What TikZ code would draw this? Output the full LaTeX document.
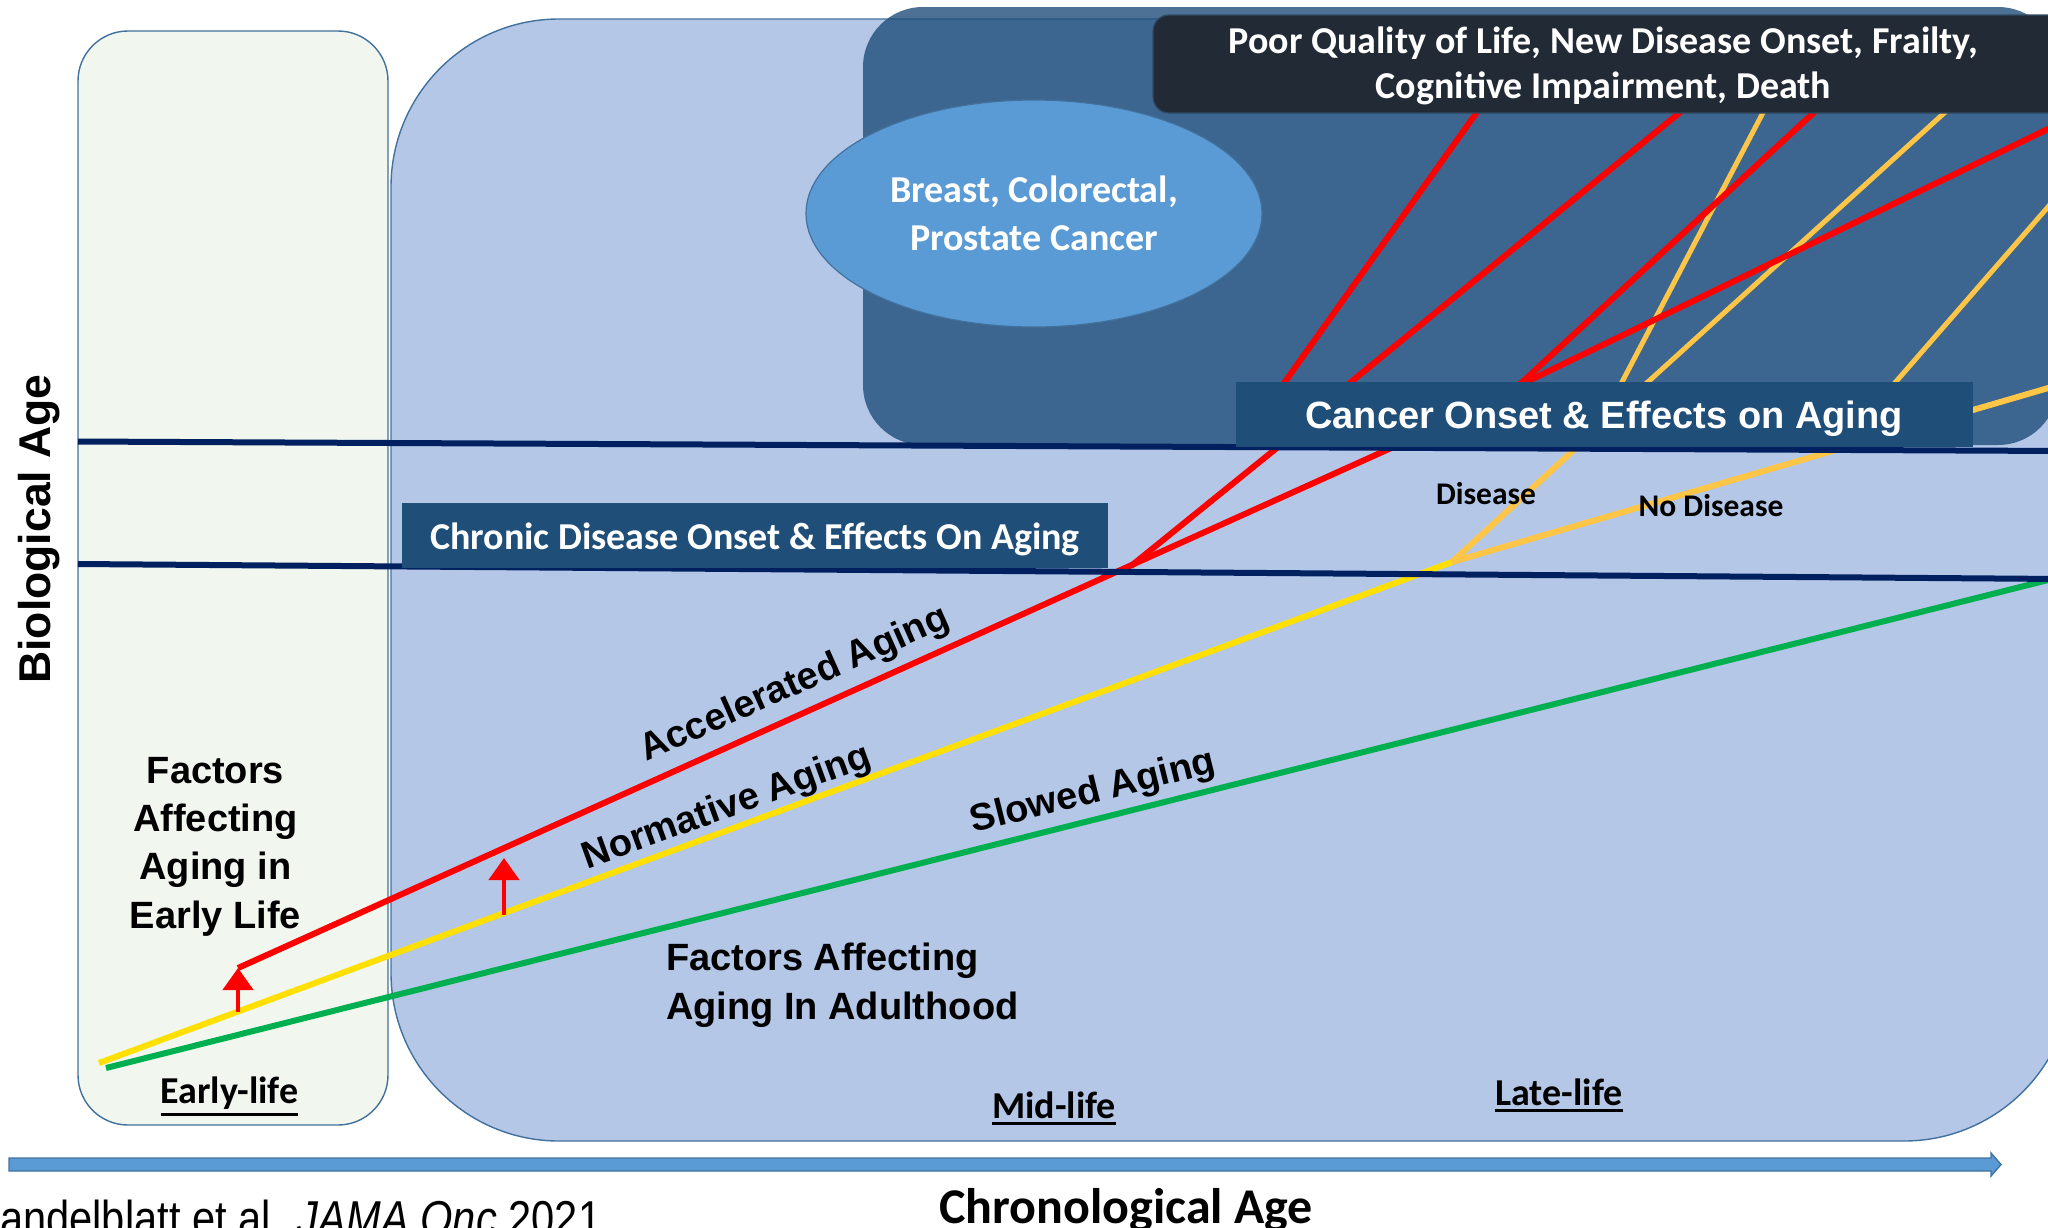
\documentclass[tikz,border=0pt]{standalone}
\usepackage{fontspec}
\setmainfont{Carlito}
\newfontfamily\arialfont{Liberation Sans}
\newfontfamily\citefont{Liberation Sans}[FakeStretch=0.85]
\usetikzlibrary{shapes.geometric,arrows.meta}

\definecolor{earlyfill}{HTML}{F1F6EE}
\definecolor{boxedge}{HTML}{41719C}
\definecolor{midfill}{HTML}{B4C7E7}
\definecolor{bannerblue}{HTML}{1F4E79}
\definecolor{poorfill}{HTML}{222A35}
\definecolor{ellfill}{HTML}{5B9BD5}
\definecolor{navy}{HTML}{002060}
\definecolor{redl}{HTML}{FF0000}
\definecolor{yell}{HTML}{FFE000}
\definecolor{orng}{HTML}{FFC547}
\definecolor{grn}{HTML}{00B050}

% underlined life-stage label with a heavy rule
\newcommand{\lifeul}[1]{\vtop{\hbox{#1}\kern4pt\hrule height 2.6pt}}

\begin{document}
\begin{tikzpicture}[x=1pt,y=-1pt,
  every node/.style={inner sep=0pt,outer sep=0pt},
  panel/.style={draw=boxedge,line width=1.4pt},
  track/.style={line width=6pt},
  thintrack/.style={line width=5pt},
  level/.style={draw=navy,line width=6pt},
  banner/.style={fill=bannerblue},
  whitetxt/.style={text=white,font=\fontsize{38}{47}\selectfont\bfseries},
  ariallbl/.style={font=\arialfont\fontsize{38}{48.3}\selectfont\bfseries,text=black},
  calblbl/.style={font=\fontsize{38}{47}\selectfont\bfseries,text=black},
  smalllbl/.style={font=\fontsize{31.5}{36}\selectfont\bfseries,text=black},
  riser/.style={draw=redl,line width=4.5pt,-{Triangle[width=30pt,length=22pt]}},
]
\useasboundingbox (0,0) rectangle (2048,1227);
\clip (0,0) rectangle (2048,1227);

% life-stage panels
\draw[panel,fill=earlyfill,rounded corners=50pt] (78,31) rectangle (388,1125);
\draw[panel,fill=midfill,rounded corners=168pt] (391,19) rectangle (2072,1141);
\fill[bannerblue,opacity=0.8,rounded corners=60pt] (863,7) rectangle (2058,445);

% cancer types
\node[ellipse,draw=boxedge,line width=1.2pt,fill=ellfill,minimum width=456pt,
      minimum height=227pt,align=center,whitetxt,font=\fontsize{38}{48}\selectfont\bfseries]
      (cancers) at (1034,213.5) {Breast, Colorectal,\\Prostate Cancer};

% trajectory coordinates
\coordinate (g0) at (106,1068);
\coordinate (g1) at (2062,576.5);
\coordinate (y0) at (99,1063);
\coordinate (jn) at (1452,562);
\coordinate (nd1) at (2062,384);
\coordinate (ds1) at (1595.5,430);
\coordinate (r0) at (238,968);
\coordinate (r1) at (1420,435);
\coordinate (s0) at (1131,566);
\coordinate (s1) at (1299,430);
% above the cancer banner
\coordinate (ra0) at (1272,400);   \coordinate (ra1) at (1482,105);
\coordinate (rb0) at (1329,400);   \coordinate (rb1) at (1689,105);
\coordinate (rv) at (1518,386);
\coordinate (rc1) at (1822,105);
\coordinate (rd1) at (2090,108.6);
\coordinate (oa0) at (1612.6,400); \coordinate (oa1) at (1767,105);
\coordinate (ob0) at (1628,400);   \coordinate (ob1) at (1953,105);
\coordinate (oc0) at (1880,400);   \coordinate (oc1) at (2141,100);

% aging trajectories
\draw[track,grn] (g0) -- (g1);
\draw[track,yell] (y0) -- (jn);
\draw[track,orng] (jn) -- (nd1);
\draw[track,orng] (jn) -- (ds1);
\draw[track,redl] (r0) -- (r1);
\draw[track,redl] (s0) -- (s1);
\draw[thintrack,orng] (oa0) -- (oa1);
\draw[thintrack,orng] (ob0) -- (ob1);
\draw[thintrack,orng] (oc0) -- (oc1);
\draw[track,redl] (ra0) -- (ra1);
\draw[track,redl] (rb0) -- (rb1);
\draw[track,redl] (rv) -- (rc1);
\draw[track,redl] (rv) -- (rd1);

% biological-age thresholds
\coordinate (n1a) at (78,441.5);  \coordinate (n1b) at (2062,451);
\coordinate (n2a) at (78,564);    \coordinate (n2b) at (2062,579);
\draw[level] (n1a) -- (n1b);
\draw[level] (n2a) -- (n2b);

% banners
\node[banner,minimum width=706pt,minimum height=65pt] (chronicbox) at (755,535.5) {};
\node[whitetxt,anchor=base] (chronictxt) at (755,549) {Chronic Disease Onset \& Effects On Aging};
\node[banner,minimum width=737pt,minimum height=65pt] (cancerbox) at (1604.5,414.5) {};
\node[text=white,font=\arialfont\fontsize{38}{47}\selectfont\bfseries,anchor=base]
      (cancertxt) at (1604,428) {Cancer Onset \& Effects on Aging};
\draw[fill=poorfill,draw=boxedge!45!poorfill,line width=1.2pt,rounded corners=16pt]
      (1153,15) rectangle (2075,113);
\node[whitetxt,anchor=base] (poor1) at (1603.5,53) {Poor Quality of Life, New Disease Onset, Frailty,};
\node[whitetxt,anchor=base] (poor2) at (1603.5,98) {Cognitive Impairment, Death};

% shifts from normative to accelerated aging
\coordinate (u1a) at (238,1012); \coordinate (u1b) at (238,968);
\coordinate (u2a) at (504,915);  \coordinate (u2b) at (504,858);
\draw[riser] (u1a) -- (u1b);
\draw[riser] (u2a) -- (u2b);

% chronological-age axis
\draw[fill=ellfill,draw=boxedge,line width=1.4pt]
  (9,1158) -- (1991,1158) -- (1991,1153) -- (2001,1164.5) -- (1991,1176)
  -- (1991,1171) -- (9,1171) -- cycle;

% trajectory labels
\node[ariallbl,rotate=24] (accel) at (795,685) {Accelerated Aging};
\node[ariallbl,rotate=20] (norm) at (727,808) {Normative Aging};
\node[ariallbl,rotate=14] (slow) at (1093,793) {Slowed Aging};

% factor labels (base anchor sits on the last line)
\node[ariallbl,align=center,anchor=base] (earlyfac) at (215.5,928) {Factors\\Affecting\\Aging in\\Early Life};
\node[ariallbl,align=left,anchor=base west] (adultfac) at (666,1019) {Factors Affecting\\Aging In Adulthood};

% life stages
\node[calblbl,anchor=base] (earlylife) at (229.5,1103) {\lifeul{Early-life}};
\node[calblbl,anchor=base] (midlife) at (1054,1118) {\lifeul{Mid-life}};
\node[calblbl,anchor=base] (latelife) at (1559,1105) {\lifeul{Late-life}};

% disease branches
\node[smalllbl,anchor=base] (dislbl) at (1486,504) {Disease};
\node[smalllbl,anchor=base] (nodislbl) at (1711,516) {No Disease};

% axes
\node[font=\arialfont\fontsize{44.5}{50}\selectfont\bfseries,rotate=90,anchor=base] (bioage) at (50,529) {Biological Age};
\node[font=\fontsize{50}{60}\selectfont\bfseries,anchor=base] (chronage) at (1126,1223) {Chronological Age};

% source
\node[font=\citefont\fontsize{49}{58}\selectfont,anchor=base west] (source) at (0,1235) {andelblatt et al. \textit{JAMA Onc} 2021};
\end{tikzpicture}
\end{document}
